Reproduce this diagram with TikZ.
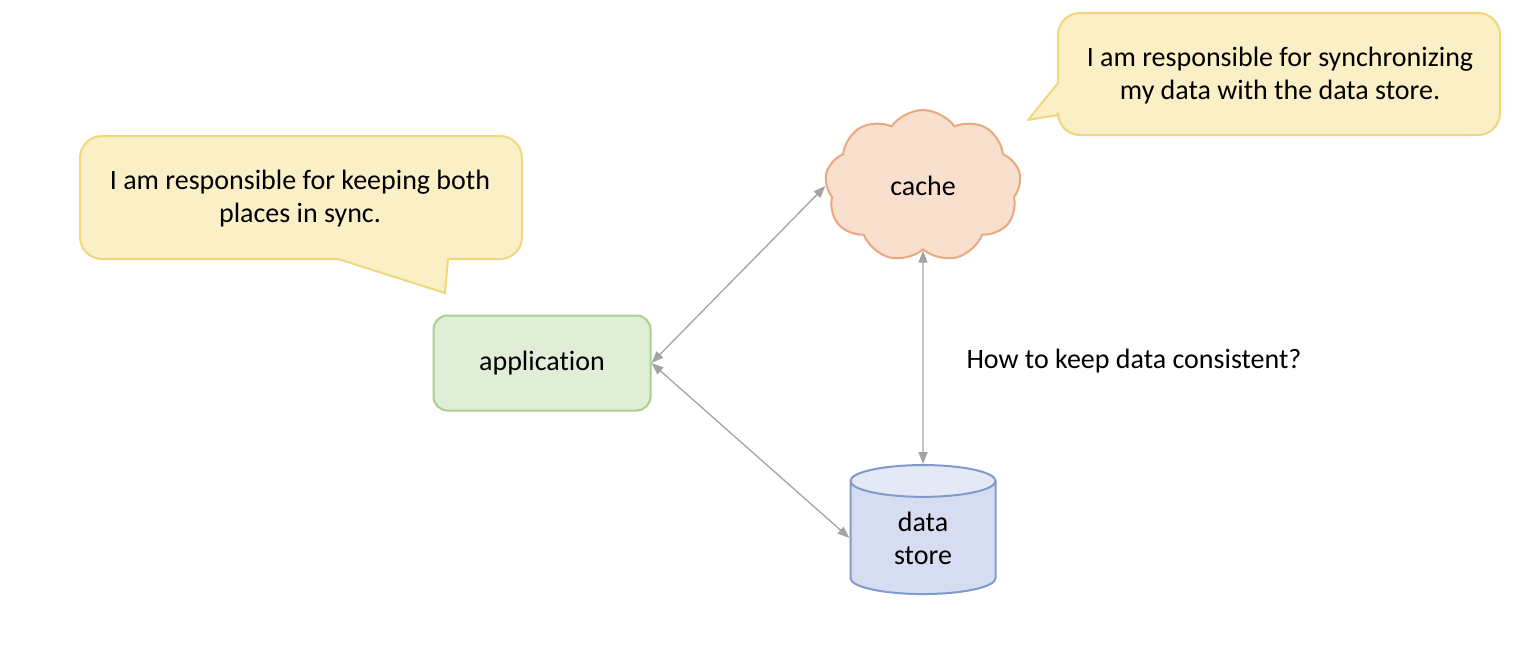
\documentclass[tikz,border=0pt]{standalone}
\usepackage{fontspec}
\setmainfont[Ligatures=NoCommon]{Carlito}
\usepackage{tikz}
\usetikzlibrary{positioning,arrows.meta,shapes.symbols,shapes.geometric}
\definecolor{notefill}{HTML}{FBEFC6}
\definecolor{notedraw}{HTML}{F0D77E}
\definecolor{appfill}{HTML}{E0EED8}
\definecolor{appdraw}{HTML}{A9D18E}
\definecolor{cachefill}{HTML}{F8DFCE}
\definecolor{cachedraw}{HTML}{E9A97E}
\definecolor{storefill}{HTML}{D6DDF0}
\definecolor{storetop}{HTML}{E4E9F5}
\definecolor{storedraw}{HTML}{7F9BCB}
\definecolor{linkgray}{HTML}{A3A3A3}

\begin{document}
\begin{tikzpicture}[x=1pt, y=-1pt, >={Triangle[width=9pt,length=12pt]}, font=\fontsize{28}{33}\selectfont, note/.style={fill=notefill, draw=notedraw, line width=2pt, line join=round}, appbox/.style={rectangle, rounded corners=14pt, fill=appfill, draw=appdraw, line width=2pt, minimum width=217pt, minimum height=95pt}, cachecloud/.style={cloud, cloud puffs=9, cloud puff arc=110, fill=cachefill, draw=cachedraw, line width=2pt, minimum width=196pt, minimum height=152pt, inner sep=0pt}, storecyl/.style={cylinder, shape border rotate=90, aspect=0.55, cylinder uses custom fill, cylinder body fill=storefill, cylinder end fill=storetop, draw=storedraw, line width=2pt, minimum width=145pt, minimum height=129pt, inner sep=0pt, align=center}, link/.style={draw=linkgray, line width=1.3pt}]
	\useasboundingbox (0, 0) rectangle (1533, 649);
	% speech bubbles
	\draw[note] (338, 259) -- (445, 293) -- (448, 259) [rounded corners=22pt] -- (522, 259) -- (522, 136) -- (80, 136) -- (80, 259) [sharp corners] -- cycle;
	\draw[note] (1058, 83) [rounded corners=22pt] -- (1058, 13) -- (1500, 13) -- (1500, 135) -- (1058, 135) [sharp corners] -- (1058, 115) -- (1028, 120) -- cycle;
	\draw (300, 199)node[align=center](noteapp){I am responsible for keeping both\\places in sync.};
	\draw (1280, 76)node[align=center](notecache){I am responsible for synchronizing\\my data with the data store.};
	% components
	\draw (542, 363)node[appbox](app){application};
	\draw (923, 186)node[cachecloud](cache){cache};
	\draw (923, 538)node[storecyl](store){data\\store};
	\draw (963, 361)node[anchor=west](question){How to keep data consistent?};
	\path[<->] (app.east) edge[link] (cache.west);
	\path[<->] (app.east) edge[link] (store.west);
	\path[<->] (cache.south) edge[link] (store.north);
\end{tikzpicture}
\end{document}
